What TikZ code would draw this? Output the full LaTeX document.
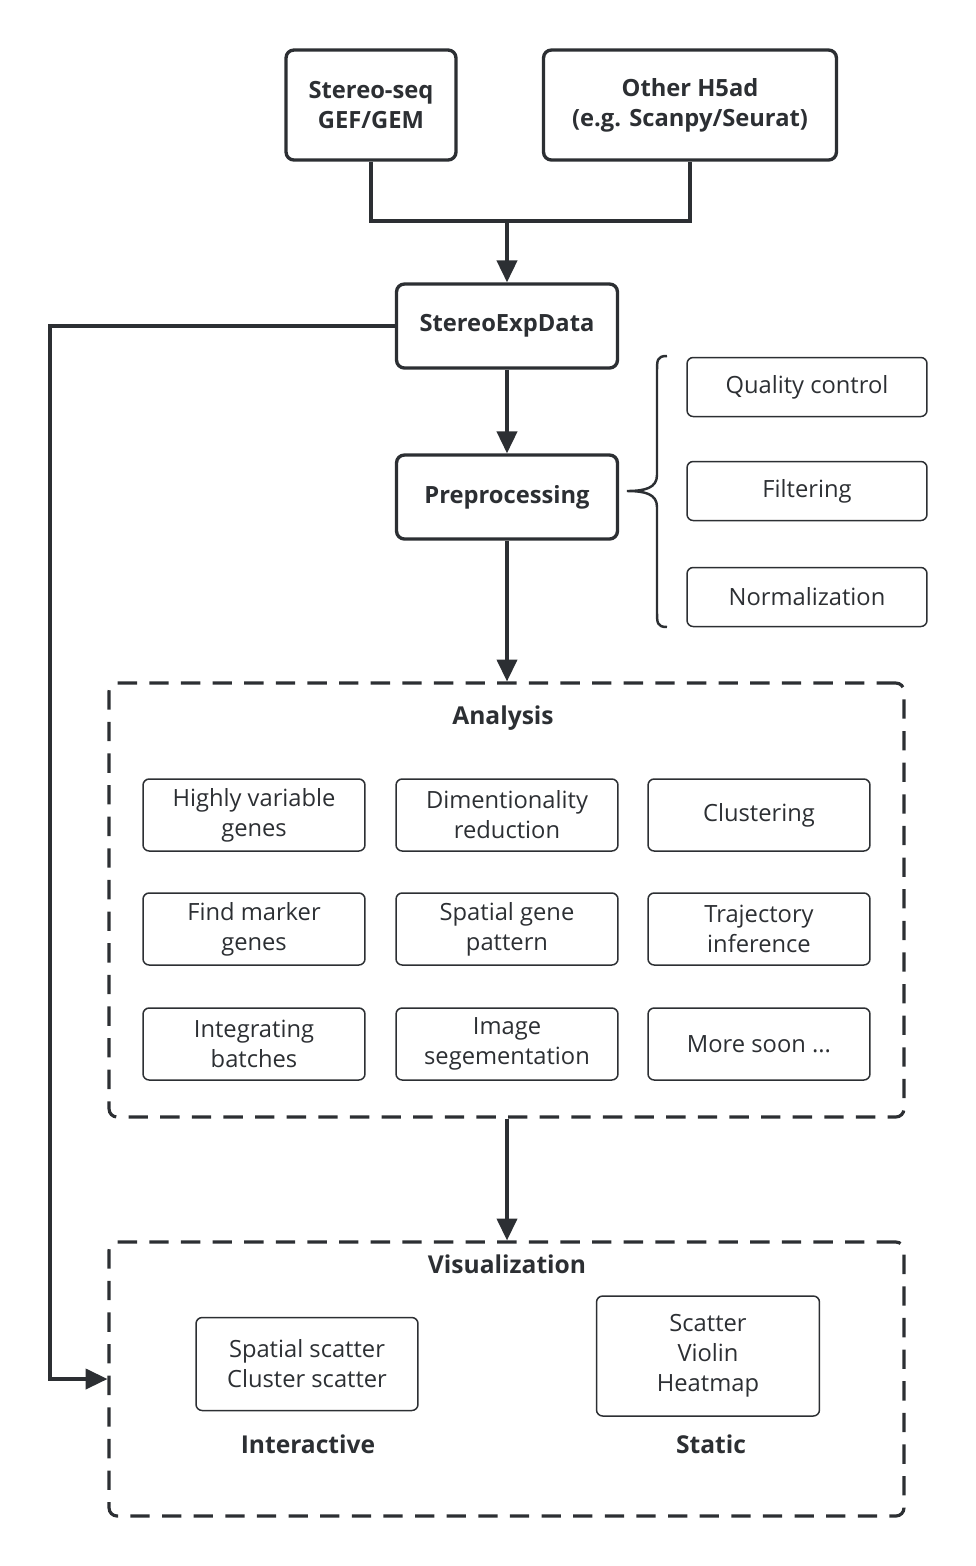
\documentclass[tikz,border=0pt]{standalone}
\usepackage{fontspec}
\setmainfont{Open Sans}
\usetikzlibrary{arrows.meta}

\definecolor{ink}{RGB}{44,47,51}

\tikzset{
	mainbox/.style={shape=rectangle, draw=ink, line width=1.9pt, rounded corners=4.5pt, inner sep=0pt,
		align=center, text=ink, font=\bfseries\fontsize{13.5}{17}\selectfont},
	subbox/.style={shape=rectangle, draw=ink, line width=0.85pt, rounded corners=3.5pt, inner sep=0pt,
		minimum width=4.44cm, minimum height=1.44cm, align=center, text=ink, font=\fontsize{13.5}{17}\selectfont},
	groupbox/.style={shape=rectangle, draw=ink, line width=1.8pt, dash pattern=on 11pt off 7pt,
		rounded corners=4.5pt, minimum width=15.9cm, inner sep=0pt},
	title/.style={text=ink, font=\bfseries\fontsize{14}{17}\selectfont},
	link/.style={draw=ink, line width=2pt},
	arr/.style={link, -{Triangle[length=12.5pt,width=11.5pt]}}
}

\begin{document}
\begin{tikzpicture}[x=0.02cm, y=-0.02cm]

	\useasboundingbox (0,0) rectangle (975,1566);

	% inputs
	\node[mainbox, minimum width=3.4cm, minimum height=2.2cm] (stereo) at (371, 105) {Stereo-seq\\GEF/GEM};
	\node[mainbox, minimum width=5.86cm, minimum height=2.2cm] (h5ad) at (690, 105) {Other H5ad\\(e.g. Scanpy/Seurat)};

	\node[mainbox, minimum width=4.42cm, minimum height=1.68cm] (sed) at (507, 326) {StereoExpData};
	\node[mainbox, minimum width=4.42cm, minimum height=1.68cm] (prep) at (507, 497) {Preprocessing};

	% preprocessing steps
	\node[subbox, minimum width=4.8cm, minimum height=1.18cm] (qc) at (807, 387) {Quality control};
	\node[subbox, minimum width=4.8cm, minimum height=1.18cm] (filt) at (807, 491) {Filtering};
	\node[subbox, minimum width=4.8cm, minimum height=1.18cm] (norm) at (807, 597) {Normalization};

	\draw[link, line width=1.4pt] (667, 356) .. controls (657, 356) and (657, 360) .. (657, 372) -- (657, 475)
		.. controls (657, 488) and (645, 491) .. (627, 491)
		.. controls (645, 491) and (657, 494) .. (657, 507) -- (657, 611)
		.. controls (657, 623) and (657, 627) .. (667, 627);

	% analysis
	\node[groupbox, minimum height=8.68cm] (ana) at (506.5, 900) {};
	\node[title] (anatitle) at (503, 718) {Analysis};

	\node[subbox] (hvg) at (254, 815) {Highly variable\\genes};
	\node[subbox] (dimred) at (507, 815) {Dimentionality\\reduction};
	\node[subbox] (clust) at (759, 815) {Clustering};
	\node[subbox] (marker) at (254, 929) {Find marker\\genes};
	\node[subbox] (spat) at (507, 929) {Spatial gene\\pattern};
	\node[subbox] (traj) at (759, 929) {Trajectory\\inference};
	\node[subbox] (batch) at (254, 1044) {Integrating\\batches};
	\node[subbox] (seg) at (507, 1044) {Image\\segementation};
	\node[subbox] (more) at (759, 1044) {More soon ...};

	% visualization
	\node[groupbox, minimum height=5.48cm] (vis) at (506.5, 1379) {};
	\node[title] (vistitle) at (507, 1264) {Visualization};

	\node[subbox, minimum height=1.86cm] (inter) at (307, 1364) {Spatial scatter\\Cluster scatter};
	\node[subbox, minimum width=4.46cm, minimum height=2.4cm] (static) at (708, 1356) {Scatter\\Violin\\Heatmap};
	\node[title] (intertitle) at (308, 1444) {Interactive};
	\node[title] (statictitle) at (711, 1444) {Static};

	\coordinate (join) at (507, 221);
	\coordinate (fb) at (50, 1379);

	\draw[link] (stereo.south) |- (join) -| (h5ad.south);
	\draw[arr] (join) -- (sed.north);
	\draw[arr] (sed.south) -- (prep.north);
	\draw[arr] (prep.south) -- (prep.south |- ana.north);
	\draw[arr] (ana.south -| prep.south) -- (prep.south |- vis.north);
	\draw[arr] (sed.west) -| (fb) -- (vis.west);

\end{tikzpicture}
\end{document}
